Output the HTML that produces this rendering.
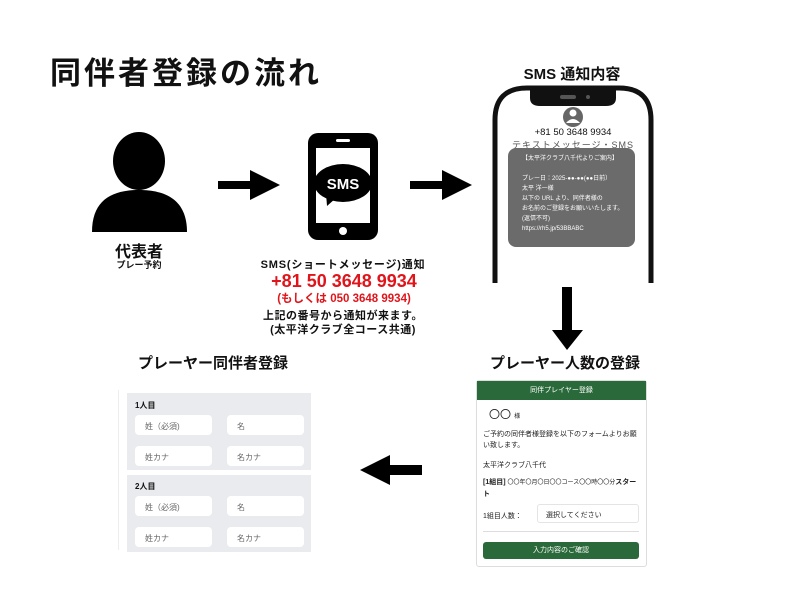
<!DOCTYPE html>
<html><head><meta charset="utf-8"><style>
*{margin:0;padding:0;box-sizing:border-box}
body{width:800px;height:600px;background:#fff;position:relative;overflow:hidden;font-family:"Liberation Sans","Noto Sans CJK JP",sans-serif;color:#111}
.a{position:absolute;white-space:nowrap}
.c{transform:translateX(-50%)}
.inp{position:absolute;background:#fff;border-radius:4px;font-size:8px;color:#666;padding:6px 0 0 10px;height:20px}
</style></head><body>
<div class="a" style="left:50px;top:48px;font-size:31px;font-weight:bold;letter-spacing:3px">同伴者登録の流れ</div>

<svg class="a" style="left:0;top:0" width="800" height="600">
 <ellipse cx="139" cy="161" rx="26" ry="29" fill="#000"/>
 <path d="M92 232 C92 200 112 190 139 190 C166 190 187 200 187 232 Z" fill="#000"/>
 <path d="M218 181 H250 V170 L280 185 L250 200 V189 H218 Z" fill="#000"/>
 <path d="M410 181 H442 V170 L472 185 L442 200 V189 H410 Z" fill="#000"/>
 <path d="M562 287 H572 V330 H583 L567 350 L552 330 H562 Z" fill="#000"/>
 <path d="M422 465 H390 V455 L360 470 L390 485 V475 H422 Z" fill="#000"/>
 <rect x="308" y="133" width="70" height="107" rx="10" fill="#000"/>
 <rect x="316" y="148" width="54" height="75" fill="#fff"/>
 <rect x="336" y="139" width="14" height="3" rx="1.5" fill="#fff"/>
 <circle cx="343" cy="231" r="4" fill="#fff"/>
 <ellipse cx="343" cy="183" rx="29" ry="19" fill="#000"/>
 <path d="M326 193 L327 206 L336 198 Z" fill="#000"/>
 <text x="343" y="189" font-size="15" font-weight="bold" fill="#fff" text-anchor="middle" font-family="Liberation Sans">SMS</text>
 <path d="M495 283 V120 Q495 88 527 88 H619 Q651 88 651 120 V283" fill="none" stroke="#111" stroke-width="5"/>
 <path d="M530 88 H616 V98 Q616 106 606 106 H540 Q530 106 530 98 Z" fill="#111"/>
 <rect x="560" y="95" width="16" height="4" rx="2" fill="#555"/>
 <circle cx="588" cy="97" r="2" fill="#555"/>
 <circle cx="573" cy="117" r="10" fill="#666"/>
 <circle cx="573" cy="113" r="3.5" fill="#fff"/>
 <path d="M566 123 Q573 115 580 123 Z" fill="#fff"/>
</svg>

<div class="a c" style="left:139px;top:238px;font-size:16px;font-weight:bold">代表者</div>
<div class="a c" style="left:139px;top:258px;font-size:9px;font-weight:bold">プレー予約</div>

<div class="a c" style="left:343px;top:256px;font-size:11px;font-weight:bold;letter-spacing:0.8px">SMS(ショートメッセージ)通知</div>
<div class="a c" style="left:344px;top:271px;font-size:18px;font-weight:bold;color:#e0151b">+81 50 3648 9934</div>
<div class="a c" style="left:344px;top:290px;font-size:11.5px;font-weight:bold;color:#e0151b">(もしくは 050 3648 9934)</div>
<div class="a c" style="left:343px;top:307px;font-size:11px;font-weight:bold;letter-spacing:0.5px">上記の番号から通知が来ます。</div>
<div class="a c" style="left:343px;top:321px;font-size:11px;font-weight:bold;letter-spacing:0.5px">(太平洋クラブ全コース共通)</div>

<div class="a c" style="left:572px;top:63px;font-size:15px;font-weight:bold">SMS 通知内容</div>
<div class="a c" style="left:573px;top:127px;font-size:9.5px">+81 50 3648 9934</div>
<div class="a c" style="left:573px;top:138px;font-size:9px;color:#555;letter-spacing:1px">テキストメッセージ・SMS</div>
<div class="a" style="left:508px;top:148px;width:127px;height:99px;background:#6b6b6b;border-radius:8px;color:#fff;font-size:6px;line-height:10px;padding:6px 0 0 14px">
【太平洋クラブ八千代よりご案内】<br><br>プレー日：2025-●●-●●(●●日前）<br>太平 洋一様<br>以下の URL より、同伴者様の<br>お名前のご登録をお願いいたします。<br>(返信不可)<br>https://rh5.jp/53BBABC</div>

<div class="a c" style="left:565px;top:352px;font-size:15px;font-weight:bold">プレーヤー人数の登録</div>
<div class="a" style="left:476px;top:380px;width:171px;height:187px;border:1px solid #ddd;border-radius:3px;font-size:7px;color:#222">
 <div style="background:#2a6a3a;color:#fff;text-align:center;height:19px;line-height:19px;font-size:7px">同伴プレイヤー登録</div>
 <div class="a" style="left:12px;top:25px;font-size:11px">〇〇 <span style="font-size:6px">様</span></div>
 <div class="a" style="left:6px;top:48px;line-height:11px;white-space:normal;width:160px">ご予約の同伴者様登録を以下のフォームよりお願い致します。</div>
 <div class="a" style="left:6px;top:79px">太平洋クラブ八千代</div>
 <div class="a" style="left:6px;top:96px;line-height:11px;white-space:normal;width:158px"><b>[1組目]</b> <span style="font-size:6px">〇〇年〇月〇日〇〇コース〇〇時〇〇分</span><b>スタート</b></div>
 <div class="a" style="left:6px;top:130px">1組目人数：</div>
 <div class="a" style="left:60px;top:123px;width:102px;height:19px;border:1px solid #e4e4e4;border-radius:3px;padding:5px 0 0 8px">選択してください</div>
 <div class="a" style="left:6px;top:150px;width:156px;height:1px;background:#ddd"></div>
 <div class="a" style="left:6px;top:161px;width:156px;height:17px;background:#2a6a3a;border-radius:3px;color:#fff;text-align:center;line-height:17px">入力内容のご確認</div>
</div>

<div class="a c" style="left:213px;top:352px;font-size:15px;font-weight:bold">プレーヤー同伴者登録</div>
<div class="a" style="left:118px;top:390px;width:1px;height:160px;background:#eee"></div>
<div class="a" style="left:127px;top:393px;width:184px;height:77px;background:#e9ebee">
 <div class="a" style="left:8px;top:7px;font-size:8px;font-weight:bold">1人目</div>
 <div class="inp" style="left:8px;top:22px;width:77px">姓（必須)</div>
 <div class="inp" style="left:100px;top:22px;width:77px">名</div>
 <div class="inp" style="left:8px;top:53px;width:77px">姓カナ</div>
 <div class="inp" style="left:100px;top:53px;width:77px">名カナ</div>
</div>
<div class="a" style="left:127px;top:475px;width:184px;height:77px;background:#e9ebee">
 <div class="a" style="left:8px;top:6px;font-size:8px;font-weight:bold">2人目</div>
 <div class="inp" style="left:8px;top:21px;width:77px">姓（必須)</div>
 <div class="inp" style="left:100px;top:21px;width:77px">名</div>
 <div class="inp" style="left:8px;top:52px;width:77px">姓カナ</div>
 <div class="inp" style="left:100px;top:52px;width:77px">名カナ</div>
</div>
</body></html>
